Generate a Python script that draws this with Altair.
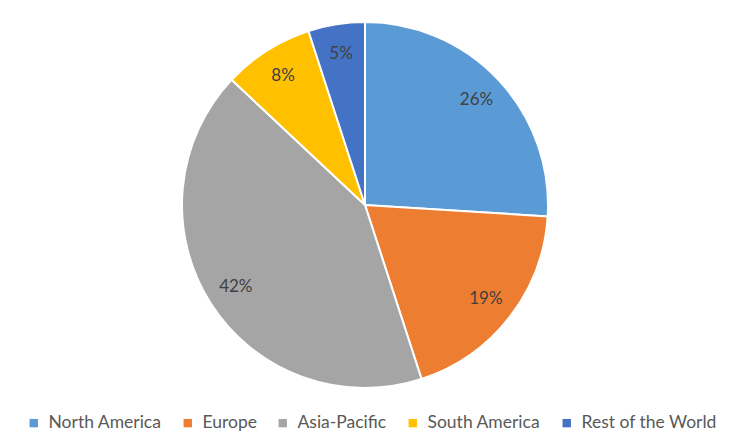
import altair as alt
import pandas as pd

regions = ["North America", "Europe", "Asia-Pacific", "South America", "Rest of the World"]
shares = [26, 19, 42, 8, 5]
colors = ["#5B9BD5", "#ED7D31", "#A5A5A5", "#FFC000", "#4472C4"]

df = pd.DataFrame({
    "region": regions,
    "share": shares,
    "order": list(range(len(regions))),
    "label": [f"{s}%" for s in shares],
})

CX, CY, R = 357, 197, 183

base = alt.Chart(df).encode(
    theta=alt.Theta("share:Q", stack=True),
    order=alt.Order("order:Q"),
)

pie = base.mark_arc(outerRadius=R, stroke="white", strokeWidth=2).encode(
    x=alt.value(CX),
    y=alt.value(CY),
    color=alt.Color(
        "region:N",
        scale=alt.Scale(domain=regions, range=colors),
        sort=regions,
        legend=alt.Legend(
            title=None,
            orient="none",
            direction="horizontal",
            legendX=17,
            legendY=406,
            symbolType="square",
            symbolSize=70,
            symbolStrokeWidth=0,
            labelFont="Lato",
            labelFontSize=17.5,
            labelColor="#595959",
            columnPadding=17,
            symbolOffset=0,
            labelOffset=6,
        ),
    ),
)

text = base.mark_text(radius=153, font="Lato", fontSize=17, color="#404040").encode(
    x=alt.value(CX),
    y=alt.value(CY),
    text="label:N",
)

chart = (pie + text).properties(
    width=719,
    height=424,
    autosize=alt.AutoSizeParams(type="none"),
    padding=0,
).configure_view(stroke=None)

chart.save("out.html", embed_options={"renderer": "svg", "actions": False})
